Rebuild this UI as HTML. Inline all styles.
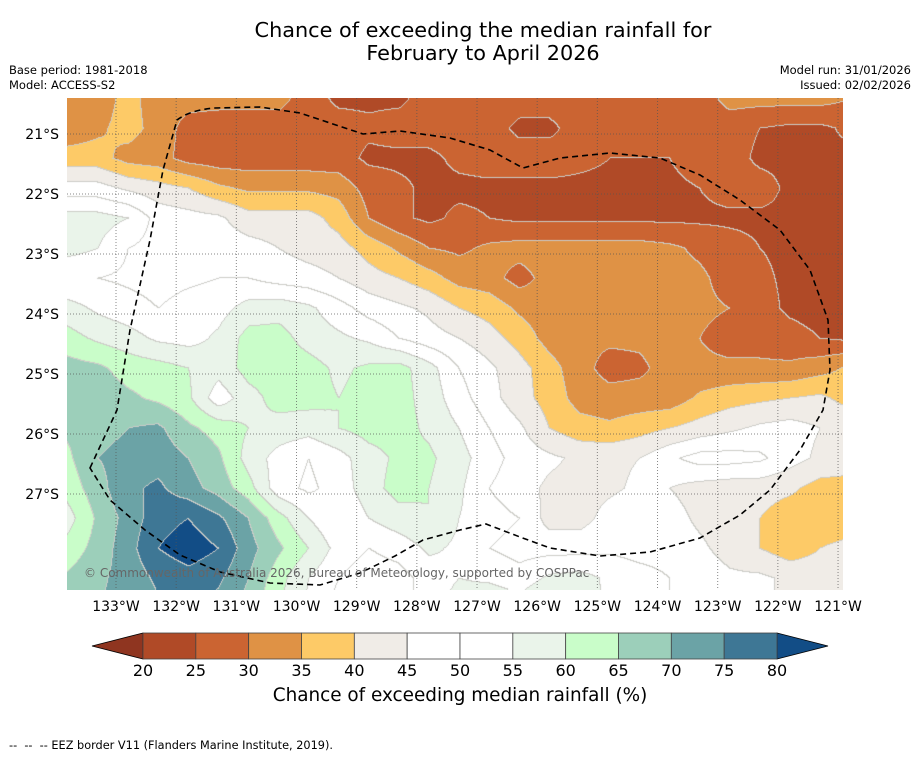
<!DOCTYPE html>
<html><head><meta charset="utf-8">
<style>
body{margin:0;background:#fff;width:919px;height:758px;overflow:hidden;font-family:"DejaVu Sans","Liberation Sans",sans-serif;}
.t{position:absolute;white-space:nowrap;color:#000;}
</style></head><body>
<div class="t" style="left:0;width:966px;top:19px;text-align:center;font-size:20.8px;line-height:23px;">Chance of exceeding the median rainfall for<br>February to April 2026</div>
<div class="t" style="left:9px;top:63px;font-size:11.5px;line-height:15px;">Base period: 1981-2018<br>Model: ACCESS-S2</div>
<div class="t" style="right:8px;top:63px;font-size:11.5px;line-height:15px;text-align:right;">Model run: 31/01/2026<br>Issued: 02/02/2026</div>
<canvas id="map" width="776" height="492" style="position:absolute;left:67px;top:98px;"></canvas>
<svg id="ov" width="919" height="758" style="position:absolute;left:0;top:0;"></svg>
<div class="t" style="left:0;width:920px;top:685px;text-align:center;font-size:18.4px;">Chance of exceeding median rainfall (%)</div>
<div class="t" style="left:9px;top:739px;font-size:11.3px;">--&nbsp; --&nbsp; -- EEZ border V11 (Flanders Marine Institute, 2019).</div>
<script>
const lons=[133.8,133.3,132.8,132.3,131.8,131.3,130.8,130.3,129.8,129.3,128.8,128.3,127.8,127.3,126.8,126.3,125.8,125.3,124.8,124.3,123.8,123.3,122.8,122.3,121.8,121.3,120.8];
const lats=[20.4,20.9,21.4,21.9,22.4,22.9,23.4,23.9,24.4,24.9,25.4,25.9,26.4,26.9,27.4,27.9,28.4,28.9];
const r0=[32,32,37,32,32,32,32,32,27,24,24,24,27,27,27,27,27,27,27,27,27,27,32,32,32,32,30];
const r1=[32,34,37,33,28,27,27,27,27,27,26,27,27,27,27,24,24,27,27,27,27,27,27,25,24,24,26];
const r2=[37,37,33,32,28,27,27,27,27,27,24,24,24,26,27,27,27,26,25,25,25,27,27,24,24,24,24];
const r3=[47,47,44,42,40,36,34,34,34,33,28,26,24,24,24,24,24,24,24,24,24,25,27,27,24,24,24];
const r4=[57,57,55,48,47,46,42,42,42,38,30,26,24,26,25,24,24,24,24,24,24,24,24,24,24,23,23];
const r5=[57,55,50,48,48,48,47,45,43,42,38,34,30,29,31,32,32,32,32,32,31,29,27,25,24,23,23];
const r6=[50,50,49,48,49,50,50,48,47,45,42,40,37,33,32,28,32,32,32,32,32,31,28,26,24,23,23];
const r7=[57,54,52,50,52,53,57,58,56,52,48,46,44,40,38,34,32,32,32,32,32,31,30,27,24,23,23];
const r8=[62,59,57,54,53,56,62,62,58,56,54,50,47,45,42,38,33,31,31,31,32,30,28,28,27,25,24];
const r9=[67,66,63,62,60,57,62,63,62,59,61,62,57,50,46,42,37,32,28,29,32,31,31,31,31,33,36];
const r10=[68,68,66,64,61,52,58,62,62,60,62,62,58,52,47,42,38,33,32,32,32,36,38,39,40,41,38];
const r11=[66,68,70,71,66,63,60,58,57,60,62,62,59,55,50,46,40,37,36,38,40,42,44,46,47,45,44];
const r12=[64,70,72,73,70,66,58,53,50,53,58,61,61,57,52,48,46,44,44,45,49,52,52,51,47,44,44];
const r13=[62,68,74,76,72,68,62,52,49,52,58,62,60,56,50,47,44,43,44,46,45,43,42,42,41,38,37];
const r14=[58,66,72,78,80,76,70,62,55,50,55,58,60,55,52,50,43,43,47,49,47,44,42,40,37,36,36];
const r15=[62,67,73,80,83,80,72,66,60,53,50,52,56,54,50,48,48,48,49,48,48,46,43,40,37,40,42];
const r16=[66,69,72,76,78,76,70,62,55,50,47,48,52,55,54,52,56,57,54,52,50,48,46,46,44,43,42];
const r17=[68,70,72,74,74,73,68,60,54,48,46,48,52,58,60,58,62,58,54,52,50,48,46,46,44,43,42];
const grid=[r0,r1,r2,r3,r4,r5,r6,r7,r8,r9,r10,r11,r12,r13,r14,r15,r16,r17];
const levels=[20,25,30,35,40,45,50,55,60,65,70,75,80];
const colors=['#8f3520','#b04a27','#cb6432','#df9245','#fdca67','#f0ece7','#ffffff','#ffffff','#eaf4ea','#c9fdc9','#9ccfba','#6ba3a6','#3e7795','#124d86'];
const lonTicks=[133,132,131,130,129,128,127,126,125,124,123,122,121];
const latTicks=[21,22,23,24,25,26,27];
const xOf=lon=>116+(133-lon)*60.17;
const yOf=lat=>134+(lat-21)*60;
const NS='http://www.w3.org/2000/svg';
function binOf(v){let b=0;while(b<levels.length&&v>=levels[b])b++;return b;}
function hex(c){return [parseInt(c.substr(1,2),16),parseInt(c.substr(3,2),16),parseInt(c.substr(5,2),16)];}
const rgb=colors.map(hex);
const cv=document.getElementById('map'),ctx=cv.getContext('2d');
const W=cv.width,H=cv.height,img=ctx.createImageData(W,H);
const x0=xOf(lons[0]),dx=xOf(lons[1])-x0,y0=yOf(lats[0]),dy=yOf(lats[1])-y0;
const bins=new Int16Array(W*H);
for(let py=0;py<H;py++){
  let fy=(py+98-y0)/dy;let j=Math.min(Math.max(Math.floor(fy),0),lats.length-2);let ty=fy-j;
  for(let px=0;px<W;px++){
    let fx=(px+67-x0)/dx;let i=Math.min(Math.max(Math.floor(fx),0),lons.length-2);let tx=fx-i;
    let v=(grid[j][i]*(1-tx)+grid[j][i+1]*tx)*(1-ty)+(grid[j+1][i]*(1-tx)+grid[j+1][i+1]*tx)*ty;
    bins[py*W+px]=binOf(v);
  }
}
for(let p=0;p<W*H;p++){
  let b=bins[p],c=rgb[b];
  const px=p%W;
  if(px<W-1&&bins[p+1]!==b||p+W<W*H&&bins[p+W]!==b){c=[205,205,200];}
  img.data[p*4]=c[0];img.data[p*4+1]=c[1];img.data[p*4+2]=c[2];img.data[p*4+3]=255;
}
ctx.putImageData(img,0,0);
const svg=document.getElementById('ov');
lonTicks.forEach(l=>{const x=xOf(l);const ln=document.createElementNS(NS,'line');


ln.setAttribute('x1',x);ln.setAttribute('x2',x);ln.setAttribute('y1',98);ln.setAttribute('y2',590);
ln.setAttribute('stroke','#555');ln.setAttribute('stroke-width','1');ln.setAttribute('stroke-dasharray','1,2');ln.setAttribute('opacity','0.7');svg.appendChild(ln);
const t=document.createElementNS(NS,'text');


t.setAttribute('x',x);t.setAttribute('y',611);t.setAttribute('text-anchor','middle');t.setAttribute('font-size','14');t.setAttribute('font-family','DejaVu Sans, sans-serif');t.textContent=l+'°W';svg.appendChild(t);});
latTicks.forEach(l=>{const y=yOf(l);const ln=document.createElementNS(NS,'line');


ln.setAttribute('x1',67);ln.setAttribute('x2',843);ln.setAttribute('y1',y);ln.setAttribute('y2',y);
ln.setAttribute('stroke','#555');ln.setAttribute('stroke-width','1');ln.setAttribute('stroke-dasharray','1,2');ln.setAttribute('opacity','0.7');svg.appendChild(ln);
const t=document.createElementNS(NS,'text');


t.setAttribute('x',59);t.setAttribute('y',y+5);t.setAttribute('text-anchor','end');t.setAttribute('font-size','14');t.setAttribute('font-family','DejaVu Sans, sans-serif');t.textContent=l+'°S';svg.appendChild(t);});
const eez=document.createElementNS(NS,'path');


eez.setAttribute('d','M90,468 L117,410 L130,330 L150,240 L163,170 L177,120 Q190,110 215,108 L260,107 L300,113 L363,134 L400,131 L450,138 L490,150 L523,168 L560,158 L610,153 L660,158 L700,175 L740,200 L780,230 L810,270 L828,320 L830,370 L823,410 L800,450 L770,490 L740,515 L700,538 L650,552 L600,556 L550,548 L520,537 L486,524 L460,530 L423,540 L395,556 L360,573 L320,585 L270,583 L220,572 L180,555 L145,530 L110,500 Z');
eez.setAttribute('fill','none');eez.setAttribute('stroke','#000');eez.setAttribute('stroke-width','1.6');eez.setAttribute('stroke-dasharray','6,4');svg.appendChild(eez);
const cp=document.createElementNS(NS,'text');


cp.setAttribute('x',84);cp.setAttribute('y',577);cp.setAttribute('font-size','12');cp.setAttribute('fill','#666');cp.setAttribute('font-family','DejaVu Sans, sans-serif');
cp.textContent='© Commonwealth of Australia 2026, Bureau of Meteorology, supported by COSPPac';svg.appendChild(cp);
const cbX=v=>143+(v-20)*(634/60);
const cy0=633,cy1=659;
const lt=document.createElementNS(NS,'polygon');


lt.setAttribute('points',`${cbX(20)},${cy0} 92,${(cy0+cy1)/2} ${cbX(20)},${cy1}`);lt.setAttribute('fill',colors[0]);lt.setAttribute('stroke','#000');lt.setAttribute('stroke-width','0.8');svg.appendChild(lt);
const rt=document.createElementNS(NS,'polygon');


rt.setAttribute('points',`${cbX(80)},${cy0} 828,${(cy0+cy1)/2} ${cbX(80)},${cy1}`);rt.setAttribute('fill',colors[13]);rt.setAttribute('stroke','#000');rt.setAttribute('stroke-width','0.8');svg.appendChild(rt);
for(let k=0;k<levels.length-1;k++){const r=document.createElementNS(NS,'rect');


r.setAttribute('x',cbX(levels[k]));r.setAttribute('y',cy0);r.setAttribute('width',cbX(levels[k+1])-cbX(levels[k]));r.setAttribute('height',cy1-cy0);
r.setAttribute('fill',colors[k+1]);r.setAttribute('stroke','#444');r.setAttribute('stroke-width','0.8');svg.appendChild(r);}
levels.forEach(v=>{const t=document.createElementNS(NS,'text');


t.setAttribute('x',cbX(v));t.setAttribute('y',676);t.setAttribute('text-anchor','middle');t.setAttribute('font-size','16');t.setAttribute('font-family','DejaVu Sans, sans-serif');t.textContent=v;svg.appendChild(t);});
</script>
</body></html>
